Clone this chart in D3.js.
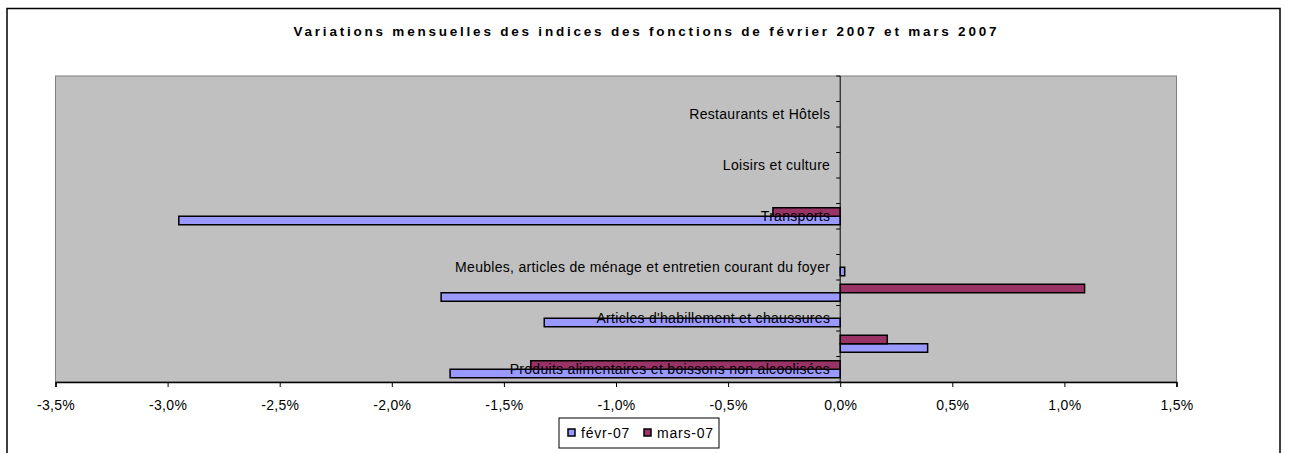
<!DOCTYPE html>
<html>
<head>
<meta charset="utf-8">
<script src="https://cdn.jsdelivr.net/npm/d3@7"></script>
<style>
    body { margin: 0; background: #ffffff; }
    svg { display: block; font-family: Arial, "Liberation Sans", sans-serif; }
</style>
</head>
<body>
<svg id="chart"></svg>
<script>
    "use strict";

    var categories = [
        "Produits alimentaires et boissons non alcoolisées",
        "Boissons alcoolisées et tabac",
        "Articles d'habillement et chaussures",
        "Logement, eau, gaz, électricité et autres combustibles",
        "Meubles, articles de ménage et entretien courant du foyer",
        "Santé",
        "Transports",
        "Communications",
        "Loisirs et culture",
        "Enseignement",
        "Restaurants et Hôtels",
        "Biens et services divers"
    ];
    // only every other category label is printed (as in the original)
    var shownLabels = [0, 2, 4, 6, 8, 10];

    var seriesNames = ["févr-07", "mars-07"];
    var fevr = [-1.74, 0.39, -1.32, -1.78, 0.02, null, -2.95, null, null, null, null, null];
    var mars = [-1.38, 0.21, null, 1.09, null, null, -0.30, null, null, null, null, null];
    var seriesColors = ["#9999ff", "#993366"];

    var xTicks = [-3.5, -3.0, -2.5, -2.0, -1.5, -1.0, -0.5, 0.0, 0.5, 1.0, 1.5];
    var title = "Variations mensuelles des indices des fonctions de février 2007 et mars 2007";

    var width = 1289;
    var height = 453;
    var plot = { left: 55.5, right: 1176.5, top: 76, bottom: 382 };

    var svg = d3.select("#chart")
        .attr("width", width)
        .attr("height", height);

    var frFormat = d3.formatLocale({
        decimal: ",",
        thousands: " ",
        grouping: [3],
        currency: ["", " €"],
        minus: "-",
        percent: "%"
    }).format(".1%");

    var x = d3.scaleLinear()
        .domain([xTicks[0], xTicks[xTicks.length - 1]])
        .range([plot.left, plot.right]);

    var y = d3.scaleBand()
        .domain(d3.range(categories.length))
        .range([plot.bottom, plot.top])
        .paddingInner(0)
        .paddingOuter(0);

    var barH = y.bandwidth() / 3;

    // outer chart frame
    svg.append("rect")
        .attr("x", 7)
        .attr("y", 8.5)
        .attr("width", 1273)
        .attr("height", 460)
        .attr("fill", "none")
        .attr("stroke", "#000")
        .attr("stroke-width", 1.5);

    svg.append("text")
        .text(title)
        .attr("x", 645)
        .attr("y", 36)
        .attr("text-anchor", "middle")
        .attr("font-size", 13.5)
        .attr("font-weight", "bold")
        .attr("textLength", 703)
        .attr("lengthAdjust", "spacing")
        .attr("fill", "#000");

    // plot area
    svg.append("rect")
        .attr("x", plot.left)
        .attr("y", plot.top)
        .attr("width", plot.right - plot.left)
        .attr("height", plot.bottom - plot.top)
        .attr("fill", "#c0c0c0")
        .attr("stroke", "#808080")
        .attr("stroke-width", 1);

    // bars
    var series = [fevr, mars];
    series.forEach(function(values, s) {
        var rows = values.map(function(v, i) { return { i: i, v: v }; })
            .filter(function(d) { return d.v !== null; });

        svg.append("g")
            .selectAll("rect")
            .data(rows)
            .enter()
            .append("rect")
            .attr("x", function(d) { return x(Math.min(0, d.v)); })
            .attr("width", function(d) { return Math.abs(x(d.v) - x(0)); })
            // first series sits in the lower half of the band
            .attr("y", function(d) { return y(d.i) + barH / 2 + (s === 0 ? barH : 0); })
            .attr("height", barH)
            .attr("fill", seriesColors[s])
            .attr("stroke", "#000")
            .attr("stroke-width", 1.5);
    });

    // x axis
    var xAxis = svg.append("g")
        .attr("transform", "translate(0," + plot.bottom + ")")
        .call(d3.axisBottom(x)
            .tickValues(xTicks)
            .tickSize(5)
            .tickFormat(function(d) { return frFormat(d / 100); }));
    xAxis.select(".domain").attr("stroke", "#000").attr("stroke-width", 1.5);
    xAxis.selectAll(".tick line").attr("stroke", "#000");
    xAxis.selectAll(".tick text")
        .attr("y", 28)
        .attr("dy", 0)
        .attr("font-size", 14)
        .attr("letter-spacing", 0.3)
        .attr("font-family", "Arial, 'Liberation Sans', sans-serif")
        .attr("fill", "#000");

    // category axis on the zero line
    var yEdges = d3.range(categories.length + 1).map(function(i) {
        return plot.bottom - i * y.step();
    });
    svg.append("line")
        .attr("x1", x(0))
        .attr("x2", x(0))
        .attr("y1", plot.top)
        .attr("y2", plot.bottom)
        .attr("stroke", "#000")
        .attr("stroke-width", 1);
    svg.append("g")
        .selectAll("line")
        .data(yEdges)
        .enter()
        .append("line")
        .attr("x1", x(0) - 4)
        .attr("x2", x(0))
        .attr("y1", function(d) { return d; })
        .attr("y2", function(d) { return d; })
        .attr("stroke", "#000");

    svg.append("g")
        .selectAll("text")
        .data(shownLabels)
        .enter()
        .append("text")
        .text(function(i) { return categories[i]; })
        .attr("x", x(0) - 10)
        .attr("y", function(i) { return y(i) + y.bandwidth() / 2; })
        .attr("dy", "0.35em")
        .attr("text-anchor", "end")
        .attr("font-size", 14)
        .attr("letter-spacing", 0.3)
        .attr("fill", "#000");

    // legend
    var legend = svg.append("g");
    legend.append("rect")
        .attr("x", 559)
        .attr("y", 418)
        .attr("width", 160)
        .attr("height", 30)
        .attr("fill", "#fff")
        .attr("stroke", "#000")
        .attr("stroke-width", 1);

    var legendX = [568, 644];
    seriesNames.forEach(function(name, s) {
        legend.append("rect")
            .attr("x", legendX[s])
            .attr("y", 429)
            .attr("width", 7)
            .attr("height", 7)
            .attr("fill", seriesColors[s])
            .attr("stroke", "#000")
            .attr("stroke-width", 1.5);
        legend.append("text")
            .text(name)
            .attr("x", legendX[s] + 13)
            .attr("y", 433)
            .attr("dy", "0.35em")
            .attr("font-size", 14)
            .attr("letter-spacing", 0.8)
            .attr("fill", "#000");
    });
</script>
</body>
</html>
